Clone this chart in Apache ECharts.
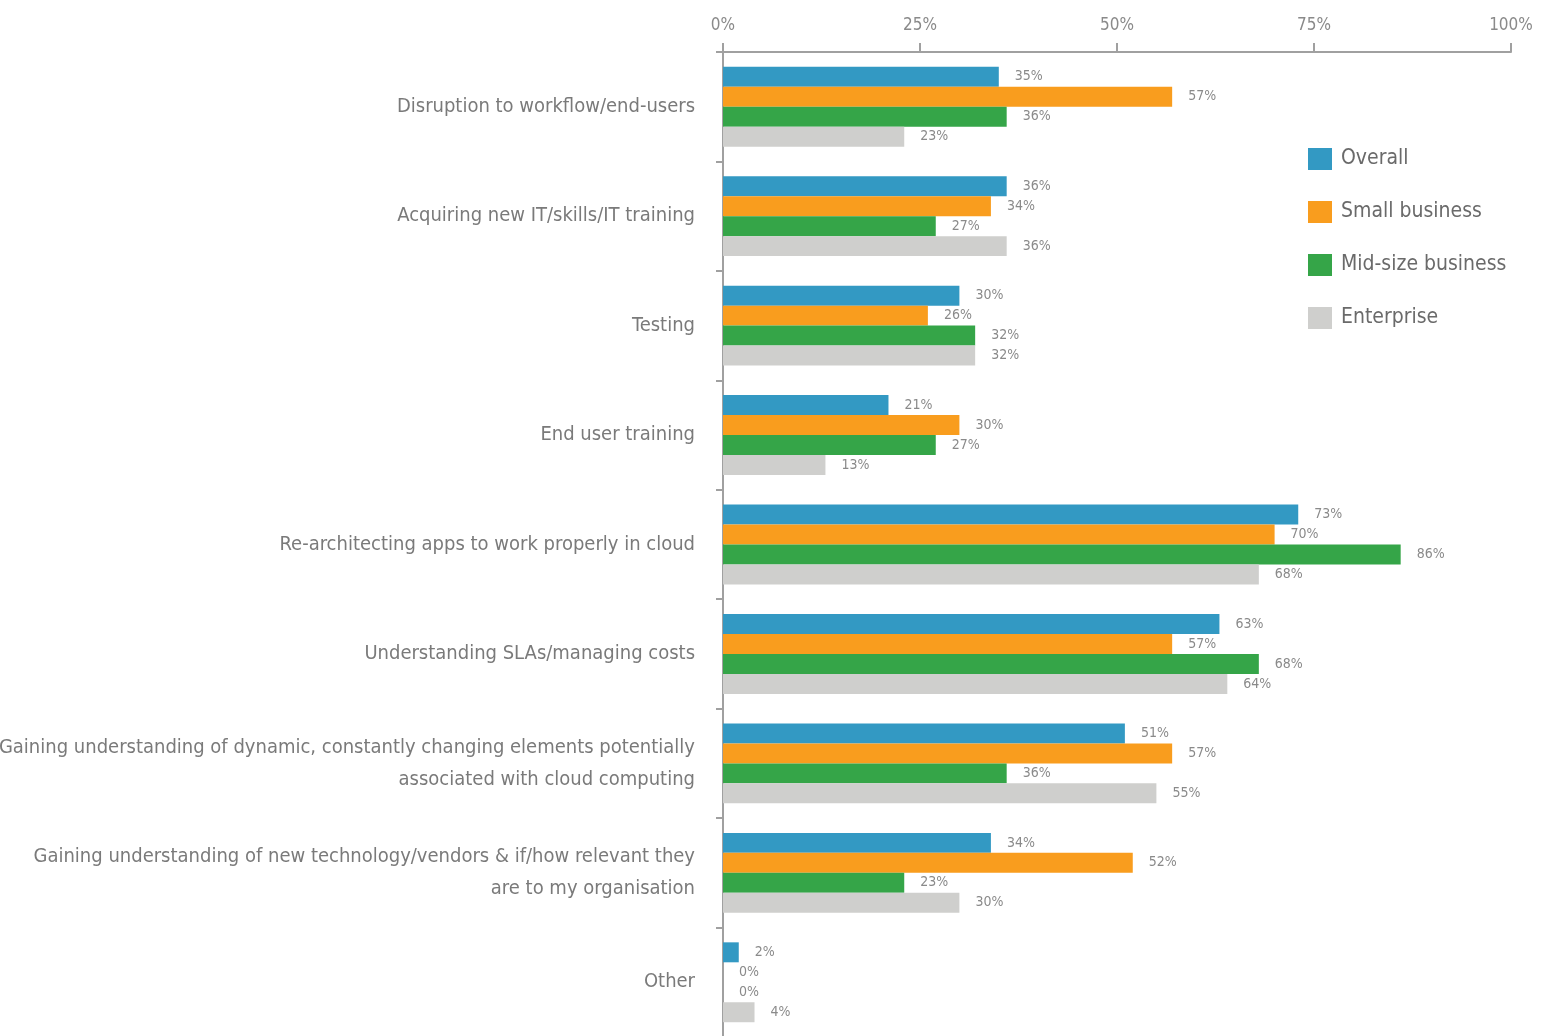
<!DOCTYPE html>
<html>
<head>
<meta charset="utf-8">
<script src="https://cdn.jsdelivr.net/npm/echarts@6/dist/echarts.min.js"></script>
<style>
  html, body { margin: 0; padding: 0; background: #fff; }
  #chart { width: 1546px; height: 1036px; }
</style>
</head>
<body>
<div id="chart"></div>
<script>
// categories top to bottom
var categories = [
    'Disruption to workflow/end-users',
    'Acquiring new IT/skills/IT training',
    'Testing',
    'End user training',
    'Re-architecting apps to work properly in cloud',
    'Understanding SLAs/managing costs',
    'Gaining understanding of dynamic, constantly changing elements potentially\nassociated with cloud computing',
    'Gaining understanding of new technology/vendors & if/how relevant they\nare to my organisation',
    'Other'
];
var overall = [35, 36, 30, 21, 73, 63, 51, 34, 2];
var smallBusiness = [57, 34, 26, 30, 70, 57, 57, 52, 0];
var midSize = [36, 27, 32, 27, 86, 68, 36, 23, 0];
var enterprise = [23, 36, 32, 13, 68, 64, 55, 30, 4];
var tickValues = [0, 25, 50, 75, 100];

var font = "'Liberation Sans Narrow', 'DejaVu Sans Condensed', 'Noto Sans', sans-serif";
var chart = echarts.init(document.getElementById('chart'));

function makeSeries(name, data, color) {
    return {
        name: name,
        type: 'bar',
        data: data,
        barGap: '0%',
        barCategoryGap: '27%',
        itemStyle: { color: color },
        label: {
            show: true,
            position: 'right',
            distance: 16,
            formatter: '{c}%',
            color: '#8a8a8a',
            fontSize: 14,
            fontFamily: font
        }
    };
}

var option = {
    animation: false,
    grid: {
        left: 723,
        right: 35,
        top: 52,
        bottom: -1,
        containLabel: false,
        outerBoundsMode: 'none'
    },
    legend: {
        orient: 'vertical',
        left: 1303,
        top: 143,
        itemWidth: 24,
        itemHeight: 22,
        itemGap: 31,
        icon: 'rect',
        textStyle: { color: '#6a6a6a', fontSize: 21, fontFamily: font, padding: [0, 0, 0, 4] },
        data: ['Overall', 'Small business', 'Mid-size business', 'Enterprise']
    },
    xAxis: {
        type: 'value',
        position: 'top',
        min: tickValues[0],
        max: tickValues[tickValues.length - 1],
        interval: 25,
        axisLine: { show: true, lineStyle: { color: '#a0a0a0', width: 2 } },
        axisTick: { show: true, length: 9, lineStyle: { color: '#a0a0a0', width: 2 } },
        splitLine: { show: false },
        axisLabel: {
            formatter: '{value}%',
            color: '#8a8a8a',
            fontSize: 17,
            fontFamily: font,
            margin: 18
        }
    },
    yAxis: {
        type: 'category',
        inverse: true,
        data: categories,
        axisLine: { show: true, lineStyle: { color: '#a0a0a0', width: 2 } },
        axisTick: { show: true, length: 7, lineStyle: { color: '#a0a0a0', width: 2 } },
        axisLabel: {
            color: '#7a7a7a',
            fontSize: 20,
            fontFamily: font,
            margin: 28,
            lineHeight: 32,
            padding: [6, 0, 0, 0],
            align: 'right'
        }
    },
    series: [
        makeSeries('Overall', overall, '#3399c3'),
        makeSeries('Small business', smallBusiness, '#f99d1e'),
        makeSeries('Mid-size business', midSize, '#35a548'),
        makeSeries('Enterprise', enterprise, '#cfcfcd')
    ]
};
chart.setOption(option);
</script>
</body>
</html>
